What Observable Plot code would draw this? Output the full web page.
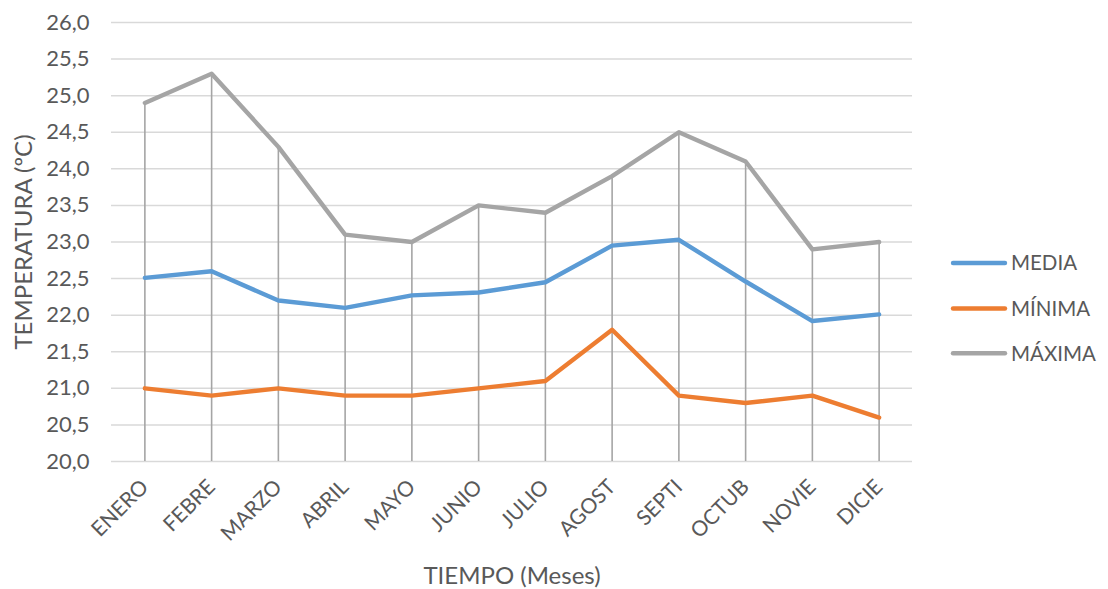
<!DOCTYPE html>
<html>
<head>
<meta charset="utf-8">
<script src="https://cdn.jsdelivr.net/npm/d3@7"></script>
<script src="https://cdn.jsdelivr.net/npm/@observablehq/plot@0.6"></script>
<style>
  html, body { margin: 0; padding: 0; background: #fff; }
  #chart { width: 1108px; height: 589px; }
</style>
</head>
<body>
<div id="chart"></div>
<script>
const months = ["ENERO", "FEBRE", "MARZO", "ABRIL", "MAYO", "JUNIO", "JULIO", "AGOST", "SEPTI", "OCTUB", "NOVIE", "DICIE"];
const media  = [22.51, 22.60, 22.20, 22.10, 22.27, 22.31, 22.45, 22.95, 23.03, 22.46, 21.92, 22.01];
const minima = [21.0, 20.9, 21.0, 20.9, 20.9, 21.0, 21.1, 21.8, 20.9, 20.8, 20.9, 20.6];
const maxima = [24.9, 25.3, 24.3, 23.1, 23.0, 23.5, 23.4, 23.9, 24.5, 24.1, 22.9, 23.0];
const yTicks = [20.0, 20.5, 21.0, 21.5, 22.0, 22.5, 23.0, 23.5, 24.0, 24.5, 25.0, 25.5, 26.0];
const seriesNames = ["MEDIA", "MÍNIMA", "MÁXIMA"];
const seriesColors = ["#5B9BD5", "#ED7D31", "#A5A5A5"];

const seriesValues = [media, minima, maxima];
const rows = [];
seriesNames.forEach((s, i) => months.forEach((m, j) => rows.push({serie: s, mes: m, valor: seriesValues[i][j]})));
const maxRows = months.map((m, j) => ({mes: m, valor: maxima[j]}));

const FONT = "Lato, 'Open Sans', sans-serif";
const fmt = d => d.toFixed(1).replace(".", ",");

const W = 1108, H = 589, ML = 111, MR = 196, MT = 22, MB = 128;

const plot = Plot.plot({
  width: W, height: H,
  marginLeft: ML, marginRight: MR, marginTop: MT, marginBottom: MB,
  style: {fontFamily: FONT, fontSize: "20px", color: "#595959", background: "#fff"},
  x: {type: "point", domain: months, padding: 0.5, round: false},
  y: {domain: [20, 26]},
  color: {domain: seriesNames, range: seriesColors},
  marks: [
    Plot.ruleY(yTicks, {stroke: "#D9D9D9", strokeWidth: 1.5}),
    Plot.ruleX(maxRows, {x: "mes", y1: 20, y2: "valor", stroke: "#A5A5A5", strokeWidth: 1.6}),
    Plot.line(rows, {x: "mes", y: "valor", z: "serie", stroke: "serie", strokeWidth: 4.4, strokeLinecap: "round", strokeLinejoin: "round"}),
    Plot.axisY({ticks: yTicks, tickFormat: fmt, tickSize: 0, tickPadding: 22, fontSize: 22, label: null, fill: "#595959"}),
    Plot.axisY({ticks: [], label: "TEMPERATURA (ºC)", labelAnchor: "center", labelArrow: "none", labelOffset: 97, fontSize: 24, fill: "#595959"}),
    Plot.axisX({tickRotate: -45, tickSize: 0, tickPadding: 22, fontSize: 21, label: null, fill: "#595959"}),
    Plot.axisX({ticks: [], label: "TIEMPO (Meses)", labelAnchor: "center", labelArrow: "none", labelOffset: 122, fontSize: 24, fill: "#595959"})
  ]
});

// Legend (line swatches) appended into the same SVG
const svg = d3.select(plot);
const legendYs = [263, 308.5, 353.3];
const lg = svg.append("g").attr("font-family", FONT).attr("font-size", "20.5px").attr("text-anchor", "start");
seriesNames.forEach((s, i) => {
  lg.append("line").attr("x1", 953).attr("x2", 1005).attr("y1", legendYs[i]).attr("y2", legendYs[i])
    .attr("stroke", seriesColors[i]).attr("stroke-width", 4.4).attr("stroke-linecap", "round");
  lg.append("text").attr("x", 1011).attr("y", legendYs[i]).attr("dy", "0.36em")
    .attr("fill", "#595959").text(s);
});

document.getElementById("chart").appendChild(plot);
</script>
</body>
</html>
